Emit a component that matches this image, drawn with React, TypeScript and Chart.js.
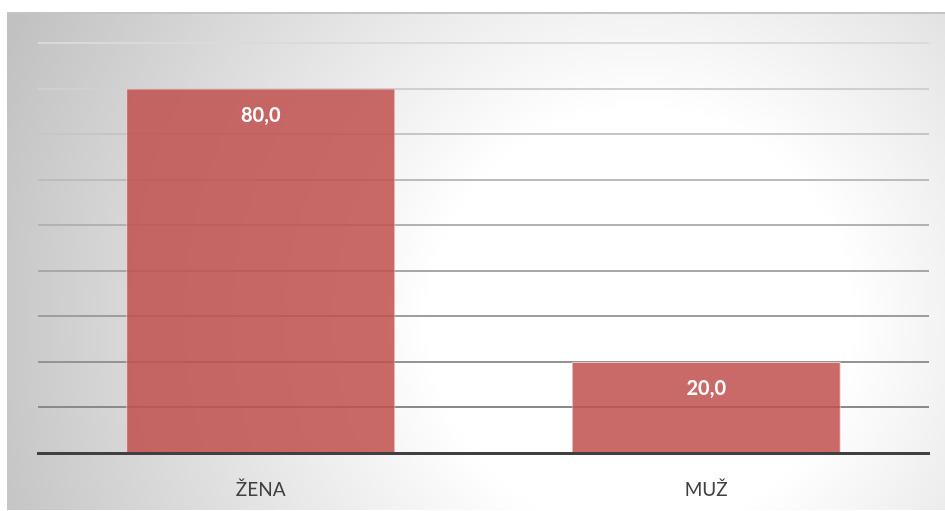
import React, { useEffect, useRef } from "react";
import { Chart, registerables } from "chart.js";

Chart.register(...registerables);

const categories = ["ŽENA", "MUŽ"];
const values = [80.0, 20.0];
const yTicks = [0, 10, 20, 30, 40, 50, 60, 70, 80, 90];

const W = 945;
const H = 511;

const bgPlugin = {
  id: "bgPanel",
  beforeDraw(chart: any) {
    const ctx = chart.ctx;
    ctx.save();
    ctx.fillStyle = "#ffffff";
    ctx.fillRect(0, 0, W, H);
    const x0 = 7, y0 = 12, x1 = 945, y1 = 510;
    const g = ctx.createRadialGradient(640, 320, 0, 640, 320, 700);
    g.addColorStop(0, "#ffffff");
    g.addColorStop(0.3, "#ffffff");
    g.addColorStop(1, "#c0c0c0");
    ctx.fillStyle = g;
    ctx.fillRect(x0, y0, x1 - x0, y1 - y0);
    ctx.fillStyle = "#c4c4c4";
    ctx.fillRect(x0, y0, x1 - x0, 2);
    ctx.restore();
  },
};

const labelPlugin = {
  id: "valueLabels",
  afterDatasetsDraw(chart: any) {
    const ctx = chart.ctx;
    const meta = chart.getDatasetMeta(0);
    ctx.save();
    ctx.fillStyle = "#ffffff";
    ctx.font = "bold 20px Lato";
    ctx.textAlign = "center";
    ctx.textBaseline = "middle";
    meta.data.forEach((bar: any, i: number) => {
      const v = values[i];
      const txt = v.toFixed(1).replace(".", ",");
      ctx.fillText(txt, bar.x, bar.y + 27);
    });
    ctx.restore();
  },
};

function gridColor(v: number): string {
  if (v === 0) return "rgba(0,0,0,0)";
  const t = (v - 10) / 80; // 0 bottom .. 1 top
  const c = Math.round(0x8a + t * (0xda - 0x8a));
  return `rgb(${c},${c},${c})`;
}

export default function App() {
  const ref = useRef<HTMLCanvasElement>(null);
  useEffect(() => {
    if (!ref.current) return;
    const chart = new Chart(ref.current, {
      type: "bar",
      data: {
        labels: categories,
        datasets: [
          {
            data: values,
            backgroundColor: "rgba(192,80,77,0.85)",
            borderColor: "rgba(240,200,200,0.9)",
            borderWidth: 1,
            barPercentage: 0.604,
            categoryPercentage: 1,
          },
        ],
      },
      options: {
        animation: false,
        responsive: false,
        maintainAspectRatio: false,
        layout: { padding: { left: 38, right: 16, top: 43, bottom: 0 } },
        plugins: { legend: { display: false }, tooltip: { enabled: false } },
        scales: {
          x: {
            grid: { display: false },
            border: { display: true, color: "#404040", width: 3 },
            ticks: {
              color: "#404040",
              font: { family: "Lato", size: 19 },
              padding: 17,
            },
            afterFit(scale: any) {
              scale.height = 58;
            },
          },
          y: {
            min: 0,
            max: 90,
            afterBuildTicks(scale: any) {
              scale.ticks = yTicks.map((v) => ({ value: v }));
            },
            ticks: { display: false },
            border: { display: false },
            grid: {
              drawTicks: false,
              lineWidth: 2,
              color: (c: any) => gridColor(c.tick ? c.tick.value : 0),
            },
            afterFit(scale: any) {
              scale.width = 0;
            },
          },
        },
      },
      plugins: [bgPlugin, labelPlugin],
    });
    return () => chart.destroy();
  }, []);
  return (
    <div style={{ position: "fixed", left: 0, top: 0, width: W, height: H }}>
      <canvas ref={ref} width={W} height={H} style={{ width: W, height: H, display: "block" }} />
    </div>
  );
}
